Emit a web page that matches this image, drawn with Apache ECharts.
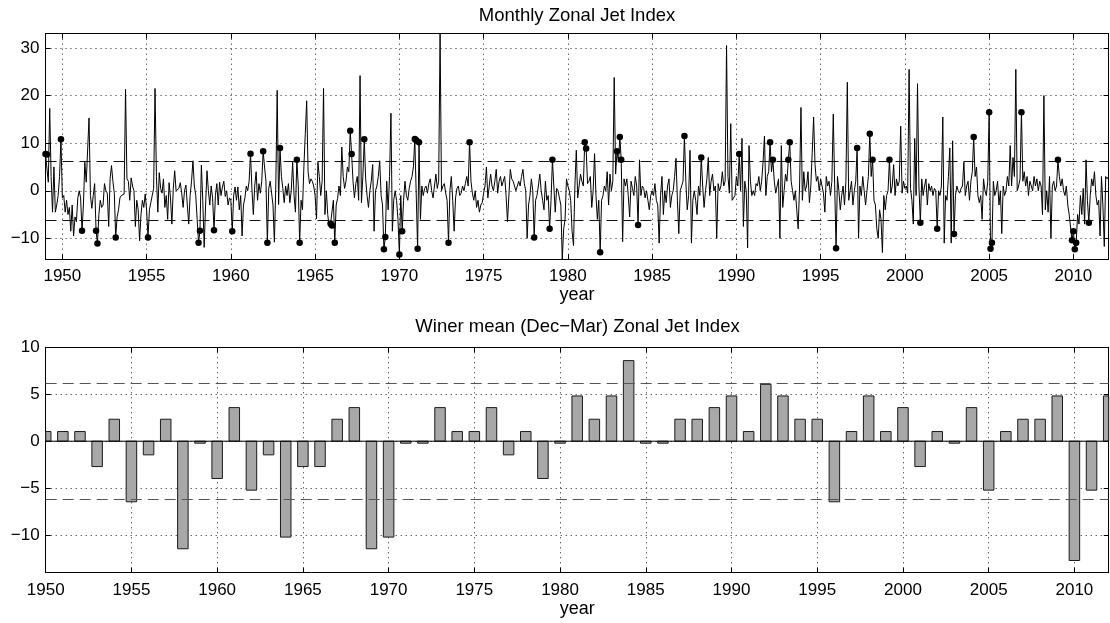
<!DOCTYPE html>
<html>
<head>
<meta charset="utf-8">
<script src="https://cdn.jsdelivr.net/npm/echarts@6/dist/echarts.min.js"></script>
<style>
  html, body { margin: 0; padding: 0; background: #fff; }
  #chart { width: 1110px; height: 623px; }
</style>
</head>
<body>
<div id="chart"></div>
<script>
// Monthly zonal jet index, Jan 1949 onwards (one row per year)
const firstMonthYear = 1949;
const monthlyJetIndex = [
  7.7, 7.6, 1.8, 17.3, 3, -4.5, 5, -4.5, -3, -1, 3, 10.8,            // 1949
  -1.5, -1, -4.5, -2, -5, -3.5, -8.5, -3, -9.5, -5.5, -6.5, -1.5,     // 1950
  0, -1.5, -8.4, -3, 6, 1.8, 2, 15.3, -1, -3.7, -1, 1.5,              // 1951
  -8.4, -11.1, -5, -2, -3.5, -3, 1.5, 0, -0.5, -7.5, 2.5, 5.3,        // 1952
  2, -0.5, -9.8, -5.5, -4, -1.5, -1, -0.7, -0.7, 21.3, 2.5, 2,        // 1953
  -2, 2.7, 1, 0, -7.5, -2, -4, -10.5, -5, -2, -3.5, -0.7,             // 1954
  -4, -9.8, -4, -2.5, -1, 0.5, 21.5, 3, -4.5, 3.8, 0.5, -0.5,         // 1955
  2.5, -3.5, -1, -6, 1.7, -1.5, -7, 0.5, 4.2, 0, -0.3, 0.5,           // 1956
  1.7, -0.5, -3.5, 0, 1.2, -3, -7, -1, 2, 6.3, 1, -1,                 // 1957
  -6, -10.9, -8.4, 5.4, -2, -11.9, -3, 4.2, 0, -3, 1, -1.5,           // 1958
  -8.3, -1, 1.5, -3, 1.8, -1, 0.8, 2, -1.2, 0, -3, -1.5,              // 1959
  -2, -8.5, -1, 0.8, -2, 0.8, -4, -1, -9.5, -3, -1.5, 1,              // 1960
  0, 2, 7.8, 0.5, -5, 1, 4, -2, 1.5, -0.5, 2, 8.3,                    // 1961
  5, 2, -10.9, 0.5, 2, -0.5, -3, -10.8, 1, 21.1, -2.9, 9.0,           // 1962
  3, 0.5, -2.5, 1, -1, 1.5, -2.5, 0, 6, -1, -4.5, 6.5,                // 1963
  1, -10.9, -2, -4, 5, 12, 18.9, 4, 1.5, 2.5, 2, 1,                   // 1964
  -1, -5.9, 6, 3, -1, 2, 21.5, -5, 0, -5, -7.5, -6.9,                 // 1965
  -7.3, -2, -10.9, -3, -1.6, 1, -1, 9.2, 3, 0.5, 2, 5,                // 1966
  4, 12.6, 7.7, 2, -1.5, 1.5, 3, -2, 24.2, -2.5, 3, 10.8,             // 1967
  2.5, -1, -3.5, 0, 2, 5.5, -8.5, 0, 1, 3, 6.3, -1,                   // 1968
  -3, -12.3, -9.7, 2, -4, 3, 16.3, -8.5, -2, 0, -2, -6,               // 1969
  -13.4, -1, -8.5, -2, 2, -1, -2, 0.5, 2, 3, 5, 10.9,                 // 1970
  10.6, -12.2, 10.2, -6, 1, -1, 0.5, 1, -0.5, 1.5, 2.5, 0,            // 1971
  -1.5, 1, 3.5, 0.5, 2, 33, 0, 1, 1.5, -0.5, -2, -10.9,               // 1972
  0, 3, -2, -8.5, -1.5, 0.5, 1, -1, -0.5, 1, 0, 1.5,                  // 1973
  3, 1, 10.2, 2, -0.5, -2, 0, -3.5, -2, -4.5, -3, -2.5,               // 1974
  -0.5, 1, 5, -1.5, 1, 3.5, 1, 0, 2, 4.5, -0.5, 2,                    // 1975
  3, 1, 2, 3, -1, -6.5, -6.5, 4.5, 2.5, 2, 1, 0,                      // 1976
  0, 2, 1, 3, 4.5, 1.5, 0, -10, -3, -1, 2.5, 0,                       // 1977
  -9.8, -2, -1, 1, 3.5, 0, -2, -4, 2, -2, -1, -8.0,                   // 1978
  -2, 6.5, 1, -4.5, 0.5, 0, -1.5, -3, -14.4, -8, -6, 2.5,             // 1979
  1, 0, -2, -8.5, -11.5, 1, 8.5, -1.5, 1, 3.5, 2, 1,                  // 1980
  10.2, 8.9, 1.5, 2, 3, -3.5, 0, 7.8, -1, -6, -2, -12.9,              // 1981
  -2, -1, 1, 0, 4, -3, 3.5, 0, 2, 23.8, 3.5, 8.3,                     // 1982
  6, 11.3, 6.5, -10.7, 2.5, 1, 2.5, -1, -5.5, 2, 0.5, -1,             // 1983
  3, 1, -7.2, 6.5, -1, 1, 0.5, -1.5, 0, -2, -4, -1,                   // 1984
  0, -1, 1.5, -2, -3, -11, -1, 3, -5, 0, -2.5, 1,                     // 1985
  2.5, -3.5, -1, 0, 3, 6.8, -2, -9, 0, 1, 2, 11.5,                    // 1986
  2, -4, -1, 8.5, -11, -2, 0, -2, -5, 1, -1, 7.0,                     // 1987
  1, -3.5, 0, 2.5, 7, -1, 2, 3.5, 0, 1, -10, 1.5,                     // 1988
  0, 1, 4, 1, 2, 30.5, 3, -0.5, 14.1, -2, -2, -1,                     // 1989
  3, 1, 7.7, 0, 11, -7.5, 2, 0, -12, 9.5, 2, -1,                      // 1990
  0, -1, 1.5, 1, 3, 0, 2, 6, 11.5, -1, 3, 4,                          // 1991
  10.2, 4, 6.5, 2, -0.5, 1, 2.5, -10, 9.5, -3.5, 0, 3.5,              // 1992
  2, 6.5, 10.2, 2, 0, -2, 0, -4, -8, 1, 17.5, -2,                     // 1993
  4, 0, 1, 4, -2.5, 1, 8, 15.5, 5.5, 2, 3, 0,                         // 1994
  2.5, 1, -0.5, -4.5, 3, 1, 2, -1, 2, 16.1, 1, -12.1,                 // 1995
  3, 0, -4, -1, 1, -3, 2, 22.8, -2, 0, 2, -3,                         // 1996
  0, 2, 9.0, -10, 1, -1, 3, 0, -3, 0, 3, 12.0,                        // 1997
  3, 6.5, -2, -3, -8, -10, -4, -6, -13, -1, -4, -1,                   // 1998
  0, 6.5, -0.5, 1, 5.5, -1, 2.5, 1, 2, 13.6, -0.5, 2,                 // 1999
  0.5, 1, -0.5, 25.5, 0.5, -2, -7, 11, -1, 22.5, 1, -6.7,             // 2000
  2.5, -1, 1, 2.5, -3, 1.5, 0, 1, -1, 0.5, 0, -8,                     // 2001
  0, -1, 1, 15.5, -11, -1, -2, 3, 9, -11, 10.5, -9.1,                 // 2002
  -1, 1, 0, -0.5, 0.5, 1, 6, -1, 1, 2, -2, 2,                         // 2003
  4, 11.3, 3, 5, -1, -2.5, -1, -6, 2.5, 0, -1, 2,                     // 2004
  16.5, -12.2, -10.9, 2, -1, 0, 2, -3, 0, -9, 1, -1,                  // 2005
  0, 3, 1, 9.5, 1, 7, 3, 25.5, 0, 1, 2.5, 16.5,                       // 2006
  2, 4, 1, 3, -1, 2, 1, 0, 3, 1, 2.5, 0,                              // 2007
  2, 1, -5, 20, -4, 0, -4.5, 3, -10, 1, 2, 0,                         // 2008
  1, 6.5, 3, 1, 2.5, 0, -1, 1, -3, -5, -5, -10.4,                     // 2009
  -8.5, -12.3, -10.9, -5, -7, -1, -5, 0.5, -7, 6.5, -2, -6.7,         // 2010
  -1, 2.5, 1, 4, -1, -3, -2, -9.5, 3, -3, -11.7, 3,                   // 2011
  2.5, 3                                                              // 2012
];

// Winter months (Dec-Mar) beyond the thresholds, as month offsets from Jan 1949
const winterMarkedMonths = [
  0, 1, 11, 26, 36, 37, 50, 73, 109, 110, 120, 133, 146, 155, 158, 167, 179, 181,
  203, 204, 206, 217, 218, 227, 241, 242, 252, 254, 263, 264, 265, 266, 287, 302,
  348, 359, 361, 384, 385, 395, 407, 409, 410, 422, 455, 467, 494, 516, 518, 529,
  530, 563, 578, 587, 589, 601, 623, 635, 647, 661, 672, 673, 674, 695, 721, 731,
  732, 733, 734, 743
];

// Winter (Dec-Mar) mean zonal jet index, 1950 onwards
const firstWinterYear = 1950;
const winterMeanJetIndex = [
  1.03, 1.03, 1.03, -2.70, 2.34, -6.45, -1.45, 2.34, -11.45, -0.21,   // 1950-1959
  -3.97, 3.58, -5.21, -1.45, -10.21, -2.70, -2.70, 2.34, 3.58, -11.45, // 1960-1969
  -10.21, -0.21, -0.21, 3.58, 1.03, 1.03, 3.58, -1.45, 1.03, -3.97,   // 1970-1979
  -0.21, 4.82, 2.34, 4.82, 8.58, -0.21, -0.21, 2.34, 2.34, 3.58,      // 1980-1989
  4.82, 1.03, 6.06, 4.82, 2.34, 2.34, -6.45, 1.03, 4.82, 1.03,        // 1990-1999
  3.58, -2.70, 1.03, -0.21, 3.58, -5.21, 1.03, 2.34, 2.34, 4.82,      // 2000-2009
  -12.70, -5.21, 4.82                                                 // 2010-2012
];

const thresholds = [6.2, -6.2];
const yearTicks = [1950, 1955, 1960, 1965, 1970, 1975, 1980, 1985, 1990, 1995, 2000, 2005, 2010];
const monthlyTicks = [-10, 0, 10, 20, 30];
const winterTicks = [-10, -5, 0, 5, 10];
const monthlyRange = [-14.4, 33];
const winterRange = [-14, 10];

const FONT = "'Liberation Sans', Arial, Helvetica, sans-serif";
const tickText = { color: '#000', fontFamily: FONT, fontSize: 17 };
const titleText = { color: '#000', fontFamily: FONT, fontSize: 18.5, fontWeight: 'normal' };
const minusSign = v => String(v).replace('-', '\u2212');
const BAR_PX = 10.5;

const monthTime = i => firstMonthYear + i / 12;
const monthlyPoints = monthlyJetIndex.map((v, i) => [monthTime(i), v]);
const markedPoints = winterMarkedMonths.map(i => [monthTime(i), monthlyJetIndex[i]]);
const winterPoints = winterMeanJetIndex.map((v, i) => [firstWinterYear + i, v]);

const monthlyX = [firstMonthYear, monthTime(monthlyJetIndex.length - 1)];
const winterX = [firstWinterYear, firstWinterYear + winterMeanJetIndex.length - 1];

const frameLine = { show: true, onZero: false, lineStyle: { color: '#000', width: 1 } };
const dottedGrid = { show: true, lineStyle: { color: '#222', width: 1, type: [1, 4] } };

function xPair(gridIndex, range) {
  const common = {
    type: 'value', gridIndex, min: range[0], max: range[1],
    axisLine: frameLine,
    axisTick: { show: true, inside: true, length: 5, customValues: yearTicks, lineStyle: { color: '#000' } }
  };
  return [
    Object.assign({}, common, {
      position: 'bottom',
      name: 'year', nameLocation: 'middle', nameGap: 27,
      nameTextStyle: { color: '#000', fontFamily: FONT, fontSize: 18 },
      axisLabel: Object.assign({ margin: 9, customValues: yearTicks, formatter: v => String(v) }, tickText),
      splitLine: dottedGrid
    }),
    Object.assign({}, common, {
      position: 'top', axisLabel: { show: false }, splitLine: { show: false }
    })
  ];
}

function yPair(gridIndex, range, ticks) {
  const common = {
    type: 'value', gridIndex, min: range[0], max: range[1],
    axisLine: frameLine,
    axisTick: { show: true, inside: true, length: 5, customValues: ticks, lineStyle: { color: '#000' } }
  };
  return [
    Object.assign({}, common, {
      position: 'left',
      axisLabel: Object.assign({ margin: 6, customValues: ticks, formatter: minusSign }, tickText),
      splitLine: dottedGrid
    }),
    Object.assign({}, common, {
      position: 'right', axisLabel: { show: false }, splitLine: { show: false }
    })
  ];
}

// Bars drawn as rectangles clipped to the plot frame, so the edge years show half a bar
function renderWinterBar(params, api) {
  const year = api.value(0);
  const base = api.coord([year, 0]);
  const tip = api.coord([year, api.value(1)]);
  const cs = params.coordSys;
  const shape = echarts.graphic.clipRectByRect(
    { x: base[0] - BAR_PX / 2, y: Math.min(base[1], tip[1]), width: BAR_PX, height: Math.abs(tip[1] - base[1]) },
    { x: cs.x, y: cs.y, width: cs.width, height: cs.height }
  );
  if (!shape) return null;
  return { type: 'rect', shape, style: { fill: '#a8a8a8', stroke: '#1a1a1a', lineWidth: 1 } };
}

const chart = echarts.init(document.getElementById('chart'), null, { renderer: 'canvas' });
chart.setOption({
  animation: false,
  backgroundColor: '#fff',
  title: [
    { text: 'Monthly Zonal Jet Index', left: 577, top: 6.5, padding: 0, textAlign: 'center', textStyle: titleText },
    { text: 'Winer mean (Dec\u2212Mar) Zonal Jet Index', left: 577.5, top: 317.5, padding: 0, textAlign: 'center', textStyle: titleText }
  ],
  grid: [
    { left: 45.5, top: 33.7, width: 1063, height: 225.6, outerBoundsMode: 'none', containLabel: false },
    { left: 45.7, top: 347.3, width: 1063, height: 225.4, outerBoundsMode: 'none', containLabel: false }
  ],
  xAxis: [...xPair(0, monthlyX), ...xPair(1, winterX)],
  yAxis: [...yPair(0, monthlyRange, monthlyTicks), ...yPair(1, winterRange, winterTicks)],
  series: [
    {
      name: 'monthly', type: 'line', xAxisIndex: 0, yAxisIndex: 0,
      data: monthlyPoints, symbol: 'none', clip: true,
      lineStyle: { color: '#000', width: 1 },
      markLine: {
        silent: true, symbol: ['none', 'none'], animation: false,
        label: { show: false },
        lineStyle: { color: '#111', width: 1, type: [11, 6] },
        data: thresholds.map(t => ({ yAxis: t }))
      }
    },
    {
      name: 'marked', type: 'scatter', xAxisIndex: 0, yAxisIndex: 0,
      data: markedPoints, symbol: 'circle', symbolSize: 6.5,
      itemStyle: { color: '#000', opacity: 1 }, z: 5
    },
    {
      name: 'winter', type: 'custom', xAxisIndex: 2, yAxisIndex: 2,
      data: winterPoints, encode: { x: 0, y: 1 },
      renderItem: renderWinterBar, z: 2
    },
    {
      // zero baseline of the bar plot, carrying the threshold lines
      name: 'baseline', type: 'line', xAxisIndex: 2, yAxisIndex: 2, z: 3,
      data: [[winterX[0], 0], [winterX[1], 0]], symbol: 'none',
      lineStyle: { color: '#000', width: 1 },
      markLine: {
        silent: true, symbol: ['none', 'none'], animation: false,
        label: { show: false },
        lineStyle: { color: '#555', width: 1, type: [11, 6] },
        data: thresholds.map(t => ({ yAxis: t }))
      }
    }
  ]
});
</script>
</body>
</html>
